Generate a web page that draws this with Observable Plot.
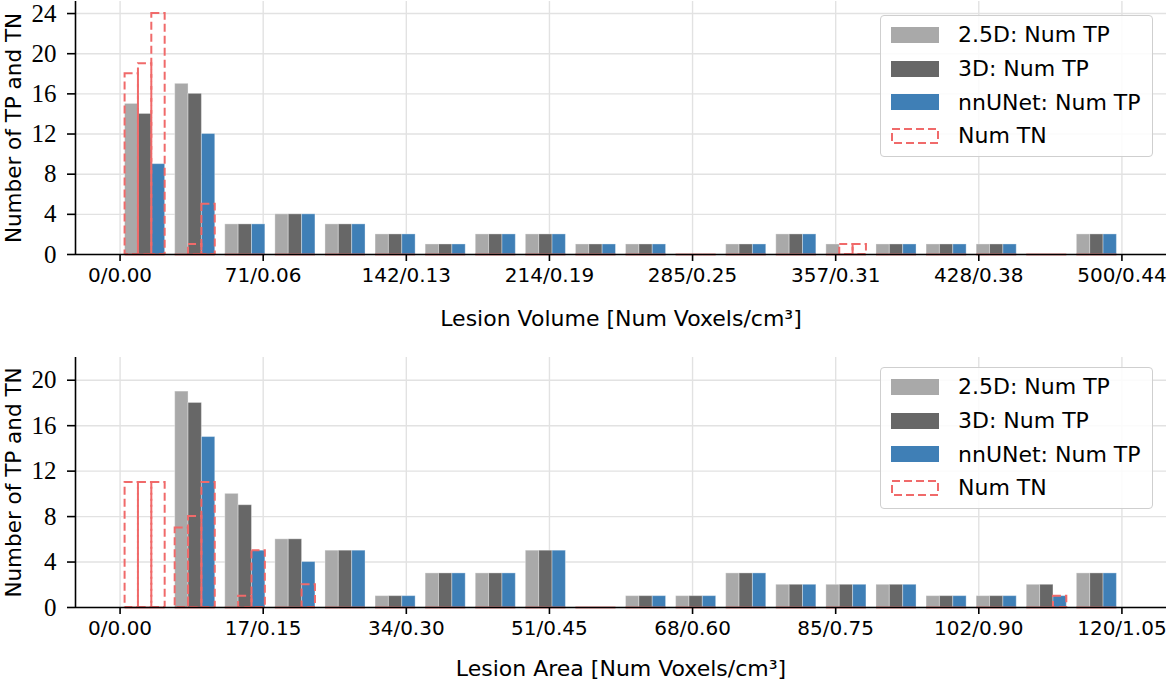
<!DOCTYPE html>
<html>
<head>
<meta charset="utf-8">
<script src="https://cdn.jsdelivr.net/npm/d3@7"></script>
<script src="https://cdn.jsdelivr.net/npm/@observablehq/plot@0.6"></script>
<style>
  html, body { margin: 0; padding: 0; background: white; }
  #root { position: relative; width: 1169px; height: 687px; overflow: hidden; }
  .panel { position: relative; width: 1169px; }
  .legend { position: absolute; left: 880px; width: 273px; height: 142px; box-sizing: border-box;
    border: 1.3px solid #cfcfcf; border-radius: 4px; background: rgba(255,255,255,0.85);
    padding: 2px 0 0 10px; font-family: "DejaVu Sans", sans-serif; font-size: 22px; color: #000; }
  .row { height: 33.7px; display: flex; align-items: center; }
  .sw { width: 48px; height: 16px; margin-right: 19px; box-sizing: border-box; flex: none; }
</style>
</head>
<body>
<div id="root">
  <div class="panel" id="p1"></div>
  <div class="panel" id="p2"></div>
</div>
<script>
// ---------- data ----------
const models = ["2.5D: Num TP", "3D: Num TP", "nnUNet: Num TP"];
const tnLabel = "Num TN";
const modelColors = ["#a9a9a9", "#676767", "#3f7fb6"];
const tnColor = "#f06a6a";

// Lesion volume (20 bins, 0..500 voxels)
const volumeMax = 500;
const volumeTickLabels = ["0/0.00", "71/0.06", "142/0.13", "214/0.19", "285/0.25", "357/0.31", "428/0.38", "500/0.44"];
const volTP25  = [15, 17, 3, 4, 3, 2, 1, 2, 2, 1, 1, 0, 1, 2, 1, 1, 1, 1, 0, 2];
const volTP3D  = [14, 16, 3, 4, 3, 2, 1, 2, 2, 1, 1, 0, 1, 2, 0, 1, 1, 1, 0, 2];
const volTPnn  = [ 9, 12, 3, 4, 3, 2, 1, 2, 2, 1, 1, 0, 1, 2, 0, 1, 1, 1, 0, 2];
const volTN25  = [18,  0, 0, 0, 0, 0, 0, 0, 0, 0, 0, 0, 0, 0, 0, 0, 0, 0, 0, 0];
const volTN3D  = [19,  1, 0, 0, 0, 0, 0, 0, 0, 0, 0, 0, 0, 0, 1, 0, 0, 0, 0, 0];
const volTNnn  = [24,  5, 0, 0, 0, 0, 0, 0, 0, 0, 0, 0, 0, 0, 1, 0, 0, 0, 0, 0];
const volYTicks = [0, 4, 8, 12, 16, 20, 24];

// Lesion area (20 bins, 0..120 voxels)
const areaMax = 120;
const areaTickLabels = ["0/0.00", "17/0.15", "34/0.30", "51/0.45", "68/0.60", "85/0.75", "102/0.90", "120/1.05"];
const areaTP25 = [0, 19, 10, 6, 5, 1, 3, 3, 5, 0, 1, 1, 3, 2, 2, 2, 1, 1, 2, 3];
const areaTP3D = [0, 18,  9, 6, 5, 1, 3, 3, 5, 0, 1, 1, 3, 2, 2, 2, 1, 1, 2, 3];
const areaTPnn = [0, 15,  5, 4, 5, 1, 3, 3, 5, 0, 1, 1, 3, 2, 2, 2, 1, 1, 1, 3];
const areaTN25 = [11, 7, 0, 0, 0, 0, 0, 0, 0, 0, 0, 0, 0, 0, 0, 0, 0, 0, 0, 0];
const areaTN3D = [11, 8, 1, 0, 0, 0, 0, 0, 0, 0, 0, 0, 0, 0, 0, 0, 0, 0, 0, 0];
const areaTNnn = [11, 11, 5, 2, 0, 0, 0, 0, 0, 0, 0, 0, 0, 0, 0, 0, 0, 0, 1, 0];
const areaYTicks = [0, 4, 8, 12, 16, 20];

const yLabel = "Number of TP and TN";
const volXLabel = "Lesion Volume [Num Voxels/cm³]";
const areaXLabel = "Lesion Area [Num Voxels/cm³]";

// ---------- helpers ----------
// matplotlib-like grouped histogram layout: rwidth 0.8, 3 sub-bars per bin
function rows(seriesList, max) {
  const n = seriesList[0].length, bw = max / n, sub = bw * 0.8 / seriesList.length;
  const out = [];
  seriesList.forEach((s, j) => s.forEach((v, i) => {
    const x1 = i * bw + bw * 0.1 + j * sub;
    out.push({model: models[j], x1, x2: x1 + sub, value: v});
  }));
  return out;
}

function panel(el, o) {
  const bw = o.max / o.tp[0].length;
  const lo = bw * 0.1 - 0.05 * (o.max - bw * 0.2);
  const hi = o.max - bw * 0.1 + 0.05 * (o.max - bw * 0.2);
  const step = o.max / (o.tickLabels.length - 1);
  const xTicks = o.tickLabels.map((_, i) => i * step);
  const tpRows = rows(o.tp, o.max);
  const tnRows = rows(o.tn, o.max);
  const chart = Plot.plot({
    width: 1169, height: o.height,
    marginLeft: 75, marginRight: 3, marginTop: o.marginTop, marginBottom: o.marginBottom,
    x: {domain: [lo, hi], range: [75, 1166]},
    y: {domain: [0, o.yMax]},
    color: {domain: models, range: modelColors},
    style: {fontFamily: "DejaVu Sans, sans-serif", fontSize: "20px", background: "white", color: "black"},
    marks: [
      Plot.gridX(xTicks, {stroke: "#e2e2e2", strokeOpacity: 1, strokeWidth: 1.4}),
      Plot.gridY(o.yTicks, {x1: lo, x2: hi, stroke: "#e2e2e2", strokeOpacity: 1, strokeWidth: 1.4}),
      Plot.rect(tpRows, {x1: "x1", x2: "x2", y1: 0, y2: "value", fill: "model",
        stroke: "white", strokeOpacity: 0.35, strokeWidth: 1}),
      Plot.ruleY(tnRows, {x1: "x1", x2: "x2", y: 0, stroke: tnColor, strokeWidth: 1.8}),
      Plot.rect(tnRows, {x1: "x1", x2: "x2", y1: 0, y2: "value", fill: "none",
        stroke: tnColor, strokeWidth: 2, strokeDasharray: "8,4"}),
      Plot.ruleY([0], {x1: lo, x2: hi, stroke: "black", strokeWidth: 1.6}),
      Plot.ruleX([lo], {stroke: "black", strokeWidth: 1.6}),
      Plot.axisX({ticks: xTicks, tickFormat: d => o.tickLabels[Math.round(d / step)],
        tickSize: 7, tickPadding: 6, strokeWidth: 1.6, label: null,
        fontSize: 20, fontFamily: "DejaVu Sans, sans-serif"}),
      Plot.axisY({ticks: o.yTicks, tickSize: 8, tickPadding: 11, strokeWidth: 1.6, label: null,
        fontSize: 25, fontFamily: "Liberation Serif, serif"}),
      Plot.text([o.xLabel], {frameAnchor: "bottom", dy: o.xLabelDy, text: d => d,
        textAnchor: "middle", lineAnchor: "middle", fontSize: 22}),
      Plot.text([yLabel], {frameAnchor: "left", dx: -61, rotate: -90, text: d => d,
        textAnchor: "middle", lineAnchor: "middle", fontSize: 21.5})
    ]
  });
  el.appendChild(chart);

  const lg = document.createElement("div");
  lg.className = "legend";
  lg.style.top = o.legendTop + "px";
  models.forEach((m, j) => {
    const r = document.createElement("div"); r.className = "row";
    const s = document.createElement("div"); s.className = "sw"; s.style.background = modelColors[j];
    const t = document.createElement("span"); t.textContent = m;
    r.appendChild(s); r.appendChild(t); lg.appendChild(r);
  });
  const r = document.createElement("div"); r.className = "row";
  const s = document.createElementNS("http://www.w3.org/2000/svg", "svg");
  s.setAttribute("class", "sw"); s.setAttribute("width", 48); s.setAttribute("height", 16);
  s.innerHTML = `<rect x="1" y="1" width="46" height="14" fill="none" stroke="${tnColor}" stroke-width="2" stroke-dasharray="8,4"/>`;
  const t = document.createElement("span"); t.textContent = tnLabel;
  r.appendChild(s); r.appendChild(t); lg.appendChild(r);
  el.appendChild(lg);
}

panel(document.getElementById("p1"), {
  tp: [volTP25, volTP3D, volTPnn], tn: [volTN25, volTN3D, volTNnn],
  max: volumeMax, yMax: 25.2, yTicks: volYTicks, tickLabels: volumeTickLabels,
  xLabel: volXLabel, height: 340, marginTop: 1, marginBottom: 86, xLabelDy: 64, legendTop: 15
});
panel(document.getElementById("p2"), {
  tp: [areaTP25, areaTP3D, areaTPnn], tn: [areaTN25, areaTN3D, areaTNnn],
  max: areaMax, yMax: 22, yTicks: areaYTicks, tickLabels: areaTickLabels,
  xLabel: areaXLabel, height: 347, marginTop: 17, marginBottom: 80, xLabelDy: 61, legendTop: 27
});
</script>
</body>
</html>
